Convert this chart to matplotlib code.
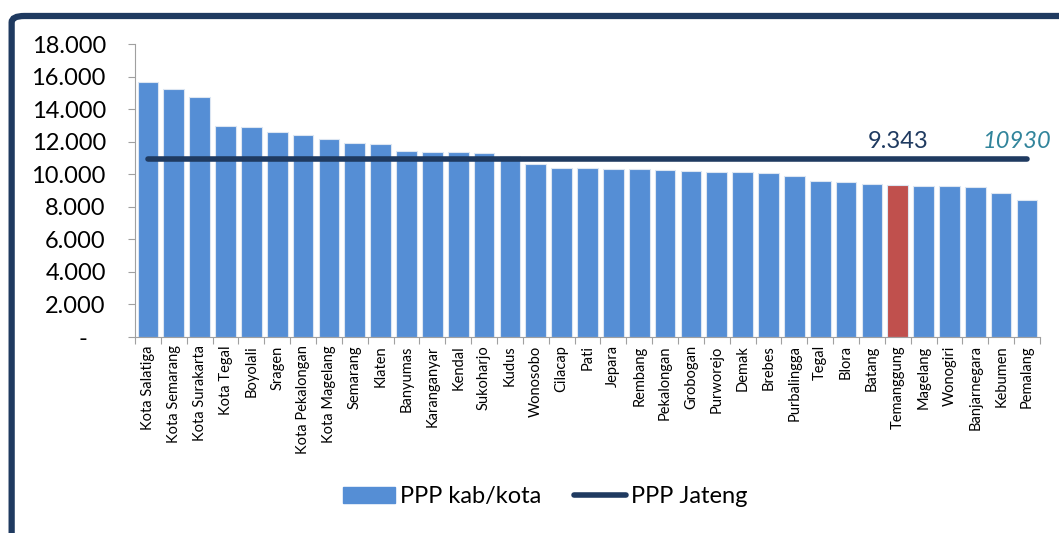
"""PPP per kab/kota Jawa Tengah vs PPP Jateng."""

import matplotlib

matplotlib.use("Agg")

import matplotlib.pyplot as plt  # noqa: E402
from matplotlib.patches import FancyBboxPatch  # noqa: E402
from matplotlib.lines import Line2D  # noqa: E402
from matplotlib.patches import Patch  # noqa: E402
from matplotlib.ticker import FuncFormatter  # noqa: E402
from matplotlib.transforms import blended_transform_factory  # noqa: E402

regions = [
    "Kota Salatiga", "Kota Semarang", "Kota Surakarta", "Kota Tegal", "Boyolali",
    "Sragen", "Kota Pekalongan", "Kota Magelang", "Semarang", "Klaten",
    "Banyumas", "Karanganyar", "Kendal", "Sukoharjo", "Kudus",
    "Wonosobo", "Cilacap", "Pati", "Jepara", "Rembang",
    "Pekalongan", "Grobogan", "Purworejo", "Demak", "Brebes",
    "Purbalingga", "Tegal", "Blora", "Batang", "Temanggung",
    "Magelang", "Wonogiri", "Banjarnegara", "Kebumen", "Pemalang",
]
ppp_kab = [
    15660, 15230, 14740, 12960, 12900,
    12570, 12420, 12180, 11930, 11870,
    11420, 11380, 11380, 11300, 11150,
    10610, 10390, 10360, 10310, 10310,
    10270, 10210, 10150, 10110, 10050,
    9880, 9570, 9550, 9430, 9343,
    9290, 9250, 9210, 8860, 8430,
]
ppp_jateng = 10930
highlight = "Temanggung"

BLUE = "#558ED5"
RED = "#C0504D"
NAVY = "#1F3A60"
TEAL = "#31849B"

plt.rcParams["font.family"] = ["Lato", "DejaVu Sans"]

fig = plt.figure(figsize=(10.59, 5.33), dpi=100)
frame = FancyBboxPatch((0.011, -0.2), 1.2, 1.17, boxstyle="round,pad=0,rounding_size=0.012",
                       transform=fig.transFigure, fill=False, ec=NAVY, lw=4.5, zorder=0)
fig.patches.append(frame)

ax = fig.add_axes([0.1275, 0.3677, 0.8545, 0.5497])
x = range(len(regions))
colors = [RED if r == highlight else BLUE for r in regions]
ax.bar(x, ppp_kab, width=0.8, color=colors, edgecolor="#DCE6F2", linewidth=0.8, zorder=2)
ax.plot([0, len(regions) - 1], [ppp_jateng, ppp_jateng], color=NAVY, lw=4, solid_capstyle="round", zorder=3)

idx = regions.index(highlight)
ax.text(idx, ppp_jateng + 450, f"{ppp_kab[idx] / 1000:.3f}", color=NAVY, fontsize=17,
        ha="center", va="bottom")
ax.text(0.993, ppp_jateng + 450, str(ppp_jateng), color=TEAL, fontsize=17, style="italic",
        ha="right", va="bottom", transform=blended_transform_factory(fig.transFigure, ax.transData))

ax.set_xlim(-0.5, len(regions) - 0.5)
ax.set_ylim(0, 18000)
ax.set_yticks(range(0, 18001, 2000))
# accounting-style zero: a dash, set in from the right edge
ax.yaxis.set_major_formatter(FuncFormatter(lambda v, _: "-   " if v == 0 else f"{int(v):,}".replace(",", ".")))
ax.tick_params(axis="y", labelsize=17, length=5, color="#A0A0A0", pad=16)

ax.set_xticks([i + 0.5 for i in range(-1, len(regions))], minor=False)
ax.set_xticklabels([])
ax.set_xticks(list(x), minor=True)
ax.set_xticklabels(regions, minor=True, rotation=90, fontsize=10.5)
ax.tick_params(axis="x", which="major", length=5, color="#A0A0A0")
ax.tick_params(axis="x", which="minor", length=0, pad=6)

for side in ("top", "right"):
    ax.spines[side].set_visible(False)
for side in ("left", "bottom"):
    ax.spines[side].set_color("#A0A0A0")

handles = [Patch(color=BLUE), Line2D([0], [0], color=NAVY, lw=4, solid_capstyle="round")]
fig.legend(handles, ["PPP kab/kota", "PPP Jateng"], loc="center", bbox_to_anchor=(0.515, 0.068),
           ncol=2, frameon=False, fontsize=17, handlelength=2.2, handletextpad=0.2, columnspacing=1.4)

fig.savefig("out.png", dpi=100)
